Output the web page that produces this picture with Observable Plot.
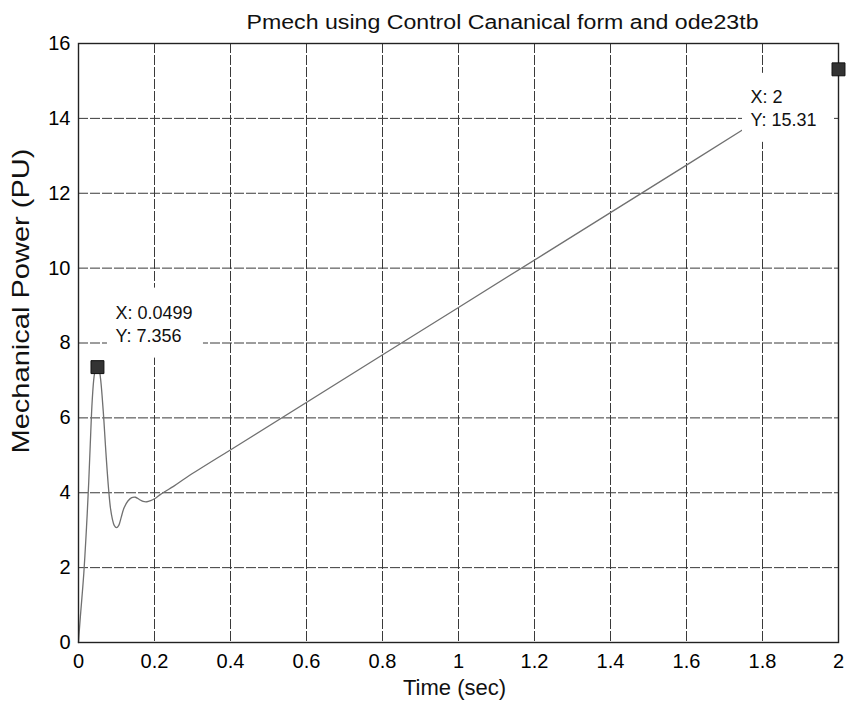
<!DOCTYPE html>
<html>
<head>
<meta charset="utf-8">
<script src="https://cdn.jsdelivr.net/npm/d3@7"></script>
<script src="https://cdn.jsdelivr.net/npm/@observablehq/plot@0.6"></script>
<style>
  html, body { margin: 0; padding: 0; background: #fff; }
  #chart svg { display: block; }
</style>
</head>
<body>
<div id="chart"></div>
<script>
// Text
const titleText = "Pmech using Control Cananical form and ode23tb";
const xLabel = "Time (sec)";
const yLabel = "Mechanical Power (PU)";

// Axis ticks
const xTicks = [0, 0.2, 0.4, 0.6, 0.8, 1, 1.2, 1.4, 1.6, 1.8, 2];
const yTicks = [0, 2, 4, 6, 8, 10, 12, 14, 16];

// Simulated mechanical power response (time in seconds, power in PU)
const time = [0, 0.002, 0.005, 0.009, 0.014, 0.019, 0.023, 0.027, 0.031, 0.036,
  0.041, 0.045, 0.0499, 0.054, 0.058, 0.062, 0.067, 0.071, 0.075, 0.080,
  0.084, 0.089, 0.094, 0.100, 0.106, 0.112, 0.120, 0.130, 0.140, 0.150,
  0.160, 0.170, 0.180, 0.190, 0.200, 0.215, 0.229, 0.250, 0.286, 0.426,
  1.000, 1.600, 2.000];
const power = [0, 0.3, 0.7, 1.2, 1.85, 2.7, 3.45, 4.3, 5.3, 6.45,
  7.1, 7.3, 7.356, 7.3, 7.05, 6.6, 5.9, 5.25, 4.65, 4.0,
  3.6, 3.3, 3.13, 3.07, 3.13, 3.33, 3.6, 3.78, 3.87, 3.88,
  3.82, 3.77, 3.76, 3.79, 3.84, 3.95, 4.04, 4.17, 4.42, 5.31,
  8.95, 12.75, 15.31];

// Data tips
const tipX = [0.0499, 2];
const tipY = [7.356, 15.31];

const curve = time.map((t, i) => ({t, p: power[i]}));
const tips = tipX.map((x, i) => ({x, y: tipY[i], label: `X: ${x}\nY: ${tipY[i]}`}));

const font = "'Liberation Sans', Arial, Helvetica, sans-serif";
const gridStyle = {stroke: "#3a3a3a", strokeOpacity: 1, strokeWidth: 1, strokeDasharray: "10,2"};

const chart = Plot.plot({
  width: 849,
  height: 709,
  marginLeft: 78,
  marginRight: 11,
  marginTop: 43,
  marginBottom: 67,
  style: {fontFamily: font, fontSize: "20px", color: "#000", background: "#fff"},
  x: {domain: [0, 2]},
  y: {domain: [0, 16]},
  marks: [
    Plot.gridX(xTicks, gridStyle),
    Plot.gridY(yTicks, gridStyle),
    Plot.line(curve, {x: "t", y: "p", stroke: "#707070", strokeWidth: 1.3, curve: "catmull-rom"}),
    Plot.frame({stroke: "#222", strokeWidth: 1.4}),
    Plot.axisX(xTicks, {tickSize: 0, tickPadding: 11, label: null, fontSize: 20,
      tickFormat: d => String(+d.toFixed(1))}),
    Plot.axisY(yTicks, {tickSize: 0, tickPadding: 8, label: null, fontSize: 20}),
    // data tip boxes
    Plot.rect([tips[0]], {x1: "x", x2: "x", y1: "y", y2: "y",
      insetLeft: 10, insetRight: -106, insetTop: -79, insetBottom: 9, fill: "#fff"}),
    Plot.rect([tips[1]], {x1: "x", x2: "x", y1: "y", y2: "y",
      insetLeft: -96, insetRight: 6, insetTop: 4, insetBottom: -73, fill: "#fff"}),
    Plot.dot(tips, {x: "x", y: "y", symbol: "square", r: 7.3, fill: "#333", stroke: "#111", strokeWidth: 1}),
    Plot.text([tips[0]], {x: "x", y: "y", text: "label", textAnchor: "start",
      dx: 18, dy: -44, lineHeight: 1.3, fontSize: 18, fill: "#111"}),
    Plot.text([tips[1]], {x: "x", y: "y", text: "label", textAnchor: "start",
      dx: -88, dy: 38, lineHeight: 1.25, fontSize: 18, fill: "#111"}),
    // title and axis labels
    Plot.text([titleText], {text: d => d, frameAnchor: "top", textAnchor: "middle",
      dx: 44, dy: -28.5, fontSize: 20, fill: "#111"}),
    Plot.text([xLabel], {text: d => d, frameAnchor: "bottom", textAnchor: "middle",
      dx: -4, dy: 52, fontSize: 22, fill: "#111"}),
    Plot.text([yLabel], {text: d => d, frameAnchor: "left", textAnchor: "middle", rotate: -90,
      dx: -57, dy: -42, fontSize: 24, fill: "#111"})
  ]
});

// widen the title and the y label to the scanned proportions
d3.select(chart).selectAll("text").each(function() {
  if (this.textContent === yLabel) {
    d3.select(this).attr("textLength", 305).attr("lengthAdjust", "spacingAndGlyphs");
  } else if (this.textContent === titleText) {
    d3.select(this).attr("textLength", 512).attr("lengthAdjust", "spacingAndGlyphs");
  }
});

document.getElementById("chart").append(chart);
</script>
</body>
</html>
